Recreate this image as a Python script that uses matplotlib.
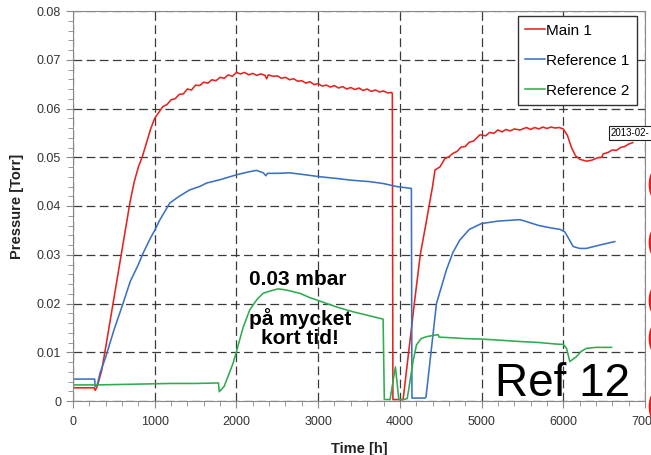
import numpy as np
import matplotlib
matplotlib.use("Agg")
import matplotlib.pyplot as plt
from matplotlib.ticker import MultipleLocator, FuncFormatter

plt.rcParams['font.family'] = ['Liberation Sans', 'DejaVu Sans']

###
### Data
###
main1_t = [0, 260, 270, 285, 300, 350, 400, 450, 500, 550, 600, 650, 700, 750,
           800, 850, 900, 950, 1000, 1050, 1100, 1150, 1200, 1250, 1300, 1350,
           1400, 1450, 1500, 1550, 1600, 1650, 1700, 1750, 1800, 1850, 1900,
           1950, 2000, 2050, 2100, 2150, 2200, 2250, 2300, 2350, 2370, 2390,
           2450, 2500, 2550, 2600, 2650, 2700, 2750, 2800, 2850, 2900, 2950,
           3000, 3050, 3100, 3150, 3200, 3250, 3300, 3350, 3400, 3450, 3500,
           3550, 3600, 3650, 3700, 3750, 3800, 3850, 3900, 3908, 3915, 4040,
           4100, 4182, 4250, 4326, 4400, 4430, 4490, 4550, 4600, 4650, 4700,
           4750, 4800, 4850, 4900, 4980, 5050, 5100, 5150, 5200, 5250, 5300,
           5350, 5400, 5470, 5550, 5600, 5650, 5700, 5750, 5800, 5850, 5900,
           5950, 6000, 6050, 6100, 6150, 6200, 6284, 6350, 6420, 6470, 6490,
           6550, 6600, 6650, 6700, 6750, 6800, 6850]
main1_p = [0.0027, 0.0027, 0.0022, 0.0026, 0.0032, 0.0062, 0.0110, 0.0160,
           0.0210, 0.0260, 0.0310, 0.0360, 0.0410, 0.0450, 0.0480, 0.0502,
           0.0530, 0.0558, 0.0580, 0.0592, 0.0604, 0.0608, 0.0618, 0.0620,
           0.0629, 0.0630, 0.0640, 0.0638, 0.0648, 0.0647, 0.0654, 0.0652,
           0.0659, 0.0657, 0.0664, 0.0662, 0.0669, 0.0666, 0.0674, 0.0671,
           0.0674, 0.0669, 0.0672, 0.0668, 0.0671, 0.0668, 0.0661, 0.0669,
           0.0666, 0.0667, 0.0662, 0.0664, 0.0659, 0.0661, 0.0656, 0.0657,
           0.0652, 0.0655, 0.0649, 0.0651, 0.0646, 0.0648, 0.0644, 0.0647,
           0.0642, 0.0645, 0.0640, 0.0643, 0.0639, 0.0642, 0.0637, 0.0640,
           0.0635, 0.0638, 0.0634, 0.0636, 0.0632, 0.0633, 0.0630, 0.0003,
           0.0003, 0.0090, 0.0207, 0.0300, 0.0370, 0.0440, 0.0474, 0.0480,
           0.0497, 0.0501, 0.0508, 0.0512, 0.0521, 0.0522, 0.0531, 0.0533,
           0.0546, 0.0544, 0.0551, 0.0549, 0.0556, 0.0552, 0.0557, 0.0554,
           0.0558, 0.0556, 0.0561, 0.0557, 0.0561, 0.0558, 0.0562, 0.0559,
           0.0562, 0.0560, 0.0561, 0.0558, 0.0545, 0.0520, 0.0503, 0.0496,
           0.0492, 0.0494, 0.0499, 0.0500, 0.0507, 0.0510, 0.0515, 0.0514,
           0.0520, 0.0522, 0.0527, 0.0530]

ref1_t = [0, 265, 270, 300, 330, 400, 500, 612, 700, 800, 857, 950, 1000,
          1061, 1184, 1300, 1428, 1550, 1633, 1800, 2000, 2150, 2245, 2330,
          2360, 2380, 2500, 2652, 2800, 3020, 3200, 3400, 3631, 3800, 3958,
          4141, 4148, 4305, 4320, 4448, 4510, 4570, 4650, 4733, 4850, 4998,
          5200, 5470, 5550, 5700, 5850, 5960, 6018, 6060, 6120, 6200, 6284,
          6400, 6500, 6630]
ref1_p = [0.0045, 0.0045, 0.0030, 0.0035, 0.0057, 0.0090, 0.0145, 0.0200,
          0.0245, 0.0280, 0.0303, 0.0335, 0.0350, 0.0371, 0.0406, 0.0420,
          0.0433, 0.0440, 0.0447, 0.0454, 0.0464, 0.0470, 0.0473, 0.0468,
          0.0462, 0.0467, 0.0467, 0.0468, 0.0465, 0.0460, 0.0457, 0.0453,
          0.0450, 0.0446, 0.0440, 0.0436, 0.0006, 0.0006, 0.0008, 0.0200,
          0.0235, 0.0269, 0.0305, 0.0330, 0.0352, 0.0364, 0.0369, 0.0372,
          0.0368, 0.0360, 0.0355, 0.0352, 0.0347, 0.0335, 0.0317, 0.0313,
          0.0313, 0.0318, 0.0322, 0.0327]

ref2_t = [0, 300, 600, 900, 1200, 1500, 1780, 1790, 1850, 1958, 2000, 2080,
          2163, 2250, 2326, 2420, 2510, 2600, 2775, 2900, 3020, 3224, 3427,
          3600, 3795, 3810, 3880, 3946, 3987, 4050, 4090, 4121, 4160, 4203,
          4260, 4326, 4427, 4470, 4480, 4600, 4800, 4998, 5200, 5470, 5700,
          5900, 6000, 6040, 6080, 6120, 6161, 6220, 6284, 6400, 6590]
ref2_p = [0.0033, 0.0033, 0.0034, 0.0035, 0.0036, 0.0036, 0.0037, 0.0019,
          0.0030, 0.0077, 0.0101, 0.0150, 0.0187, 0.0208, 0.0221, 0.0226,
          0.0230, 0.0228, 0.0221, 0.0212, 0.0205, 0.0193, 0.0183, 0.0176,
          0.0168, 0.0003, 0.0003, 0.0070, 0.0003, 0.0003, 0.0005, 0.0037,
          0.0080, 0.0115, 0.0128, 0.0132, 0.0135, 0.0136, 0.0131, 0.0130,
          0.0128, 0.0127, 0.0125, 0.0122, 0.0120, 0.0117, 0.0116, 0.0108,
          0.0081, 0.0086, 0.0091, 0.0102, 0.0108, 0.0110, 0.0110]

series = [
    ("Main 1",      main1_t, main1_p, '#e5231f'),
    ("Reference 1", ref1_t,  ref1_p,  '#3a72c1'),
    ("Reference 2", ref2_t,  ref2_p,  '#2fab50'),
]

###
### Figure
###
fig = plt.figure(figsize=(6.51, 4.55), dpi=100)
ax = fig.add_axes([73/651, 1 - 401/455, 572/651, 390/455])

for label, t, p, color in series:
    ax.plot(t, p, color=color, lw=1.15, label=label)

ax.set_xlim(0, 7000)
ax.set_ylim(0, 0.08)
ax.xaxis.set_major_locator(MultipleLocator(1000))
ax.xaxis.set_minor_locator(MultipleLocator(200))
ax.yaxis.set_major_locator(MultipleLocator(0.01))
ax.yaxis.set_minor_locator(MultipleLocator(0.002))
ax.yaxis.set_major_formatter(FuncFormatter(lambda v, pos: '0' if v == 0 else f'{v:.2f}'))

ax.grid(True, which='major', color='#3a3a3a', lw=0.9, ls=(0, (7, 3.5)))
for s in ax.spines.values():
    s.set_color('#8a8a8a')
ax.tick_params(which='both', direction='out', color='#8a8a8a', labelcolor='#333333',
               labelsize=9)
ax.tick_params(which='major', length=5)
ax.tick_params(which='minor', length=3.5)
ax.tick_params(axis='x', pad=6)

ax.set_xlabel('Time [h]', fontsize=10.5, fontweight='bold', color='#222222', labelpad=10)
ax.set_ylabel('Pressure [Torr]', fontsize=10.5, fontweight='bold', color='#222222', labelpad=9)

###
### Legend
###
leg = ax.legend(loc='upper right', bbox_to_anchor=(0.986, 0.987), borderaxespad=0,
                fontsize=11, handlelength=1.3, handletextpad=0.05, labelspacing=1.05,
                fancybox=False, framealpha=1, borderpad=0.5)
leg.get_frame().set_edgecolor('#333333')
leg.get_frame().set_linewidth(1.0)

###
### Annotations
###
ax.text(2750, 0.0249, '0.03 mbar', fontsize=15, fontweight='bold', ha='center', va='center')
ax.text(2780, 0.0150, 'på mycket\nkort tid!', fontsize=15, fontweight='bold', ha='center',
        va='center', linespacing=1.0)
ax.text(0.738, 0.013, 'Ref 12', transform=ax.transAxes, fontsize=33, ha='left', va='baseline')

fig.text(611/651, 1 - 133/455, '2013-02-', fontsize=7, ha='left', va='center',
         bbox=dict(boxstyle='square,pad=0.2', fc='white', ec='#222222', lw=0.8))

# red text from the neighbouring slide, cut by the right edge
for ypx in [185, 242, 300, 338, 406]:
    fig.text(646/651, 1 - ypx/455, '(', fontsize=24, fontweight='bold', color='#ee1c1c',
             ha='left', va='center')

fig.savefig('out.png', dpi=100)
